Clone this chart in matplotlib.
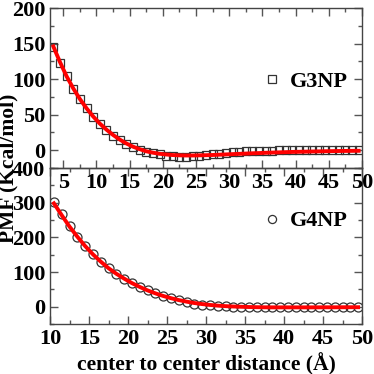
import matplotlib
matplotlib.use("Agg")
import matplotlib.pyplot as plt
from matplotlib.ticker import MultipleLocator

plt.rcParams['font.family'] = ['Liberation Serif', 'DejaVu Serif']
plt.rcParams['font.weight'] = 'bold'

# G3NP data (squares) and fit (red line)
g3_x = [3.5, 4.5, 5.5, 6.5, 7.5, 8.5, 9.5, 10.5, 11.5, 12.5, 13.5, 14.5, 15.5, 16.5,
        17.5, 18.5, 19.5, 20.5, 21.5, 22.5, 23.5, 24.5, 25.5, 26.5, 27.5, 28.5, 29.5,
        30.5, 31.5, 32.5, 33.5, 34.5, 35.5, 36.5, 37.5, 38.5, 39.5, 40.5, 41.5, 42.5,
        43.5, 44.5, 45.5, 46.5, 47.5, 48.5, 49.5]
g3_pmf = [145, 123, 105, 86, 72, 59, 47, 37, 28, 20.5, 14, 8.4, 4.7, 1,
          -2, -4, -6, -7.5, -8.4, -9, -9, -8.4, -7.5, -6.5, -5.6, -4.7, -3.7,
          -2.8, -2, -1.5, -1.1, -0.8, -0.6, -0.4, -0.3, -0.2, -0.1, 0, 0, 0,
          0, 0, 0, 0, 0, 0, 0]
g3_fit = [146, 124, 104, 87, 72, 59, 47.5, 37.5, 29, 21.5, 15, 9.5, 5, 1.5,
          -1.5, -3.5, -5, -6, -6.8, -7.2, -7.4, -7.4, -7.2, -7, -6.7, -6.3, -5.9,
          -5.5, -5.1, -4.7, -4.3, -4, -3.6, -3.3, -3, -2.7, -2.4, -2.2, -2, -1.8,
          -1.6, -1.4, -1.3, -1.1, -1, -0.9, -0.8]

# G4NP data (circles) and fit (red line)
g4_x = [10.5, 11.5, 12.5, 13.5, 14.5, 15.5, 16.5, 17.5, 18.5, 19.5, 20.5, 21.5,
        22.5, 23.5, 24.5, 25.5, 26.5, 27.5, 28.5, 29.5, 30.5, 31.5, 32.5, 33.5,
        34.5, 35.5, 36.5, 37.5, 38.5, 39.5, 40.5, 41.5, 42.5, 43.5, 44.5, 45.5,
        46.5, 47.5, 48.5, 49.5]
g4_pmf = [303, 266, 233, 201, 175, 151, 129, 111, 95, 81, 68, 58,
          48, 38, 31, 24, 18, 13.5, 9, 6, 4, 2, 1, 0,
          -1, -1.5, -2, -2, -2, -2, -2, -2, -1.8, -1.6, -1.4, -1.2,
          -1, -0.8, -0.6, -0.4]
g4_fit = [298, 264, 231, 202, 175, 151, 130, 111, 95, 81, 68, 57,
          47, 38.5, 31, 24.5, 19, 14.5, 10.5, 7.5, 5, 3, 1.5, 0.5,
          -0.3, -1, -1.5, -1.8, -2, -2, -2, -2, -2, -2, -1.9, -1.8,
          -1.8, -1.7, -1.6, -1.6]

fig = plt.figure(figsize=(3.74, 3.74), dpi=100)
L, R = 50/374, 362/374
ax1 = fig.add_axes([L, 1-168/374, R-L, 160/374])
ax2 = fig.add_axes([L, 1-324/374, R-L, 156/374])
ax1.set_zorder(2)
ax1.patch.set_alpha(0)

TICK = 16
LAB = 15.5
LEG = 16

def style(ax):
    ax.tick_params(which='both', direction='in', top=True, right=True,
                   colors='#555555', labelcolor='black')
    ax.tick_params(which='major', length=6, width=1, pad=3.5)
    ax.tick_params(which='minor', length=3, width=1)
    for s in ax.spines.values():
        s.set_color('#444444')
        s.set_linewidth(1)
    for lab in ax.get_xticklabels() + ax.get_yticklabels():
        lab.set_fontsize(TICK)
        lab.set_fontweight('bold')

ax1.plot(g3_x, g3_pmf, linestyle='none', marker='s', markersize=6,
         markerfacecolor='none', markeredgecolor='#333333', markeredgewidth=0.9,
         label='G3NP')
ax1.plot(g3_x, g3_fit, color='red', linewidth=2.8)
ax1.set_xlim(3, 50)
ax1.set_ylim(-25, 200)
ax1.set_xticks(range(5, 51, 5))
ax1.xaxis.set_minor_locator(MultipleLocator(2.5))
ax1.set_yticks([0, 50, 100, 150, 200])
ax1.yaxis.set_minor_locator(MultipleLocator(25))
style(ax1)
ax1.legend(loc='center left', bbox_to_anchor=(0.62, 0.54), frameon=False,
           handlelength=0.8, handletextpad=0.4, markerscale=0.9,
           prop=dict(size=LEG, weight='bold'))

ax2.plot(g4_x, g4_pmf, linestyle='none', marker='o', markersize=6.5,
         markerfacecolor='none', markeredgecolor='#333333', markeredgewidth=0.9,
         label='G4NP')
ax2.plot(g4_x, g4_fit, color='red', linewidth=2.8)
ax2.set_xlim(10, 50)
ax2.set_ylim(-50, 400)
ax2.set_xticks(range(10, 51, 5))
ax2.xaxis.set_minor_locator(MultipleLocator(2.5))
ax2.set_yticks([0, 100, 200, 300, 400])
ax2.yaxis.set_minor_locator(MultipleLocator(50))
style(ax2)
ax2.legend(loc='center left', bbox_to_anchor=(0.62, 0.66), frameon=False,
           handlelength=0.8, handletextpad=0.4, markerscale=0.9,
           prop=dict(size=LEG, weight='bold'))
ax2.set_xlabel('center to center distance (Å)', fontsize=LAB, fontweight='bold',
               labelpad=3)

fig.text(0.024, 0.55, 'PMF (Kcal/mol)', rotation=90, ha='center', va='center',
         fontsize=LAB, fontweight='bold')

fig.savefig('out.png', dpi=100)
